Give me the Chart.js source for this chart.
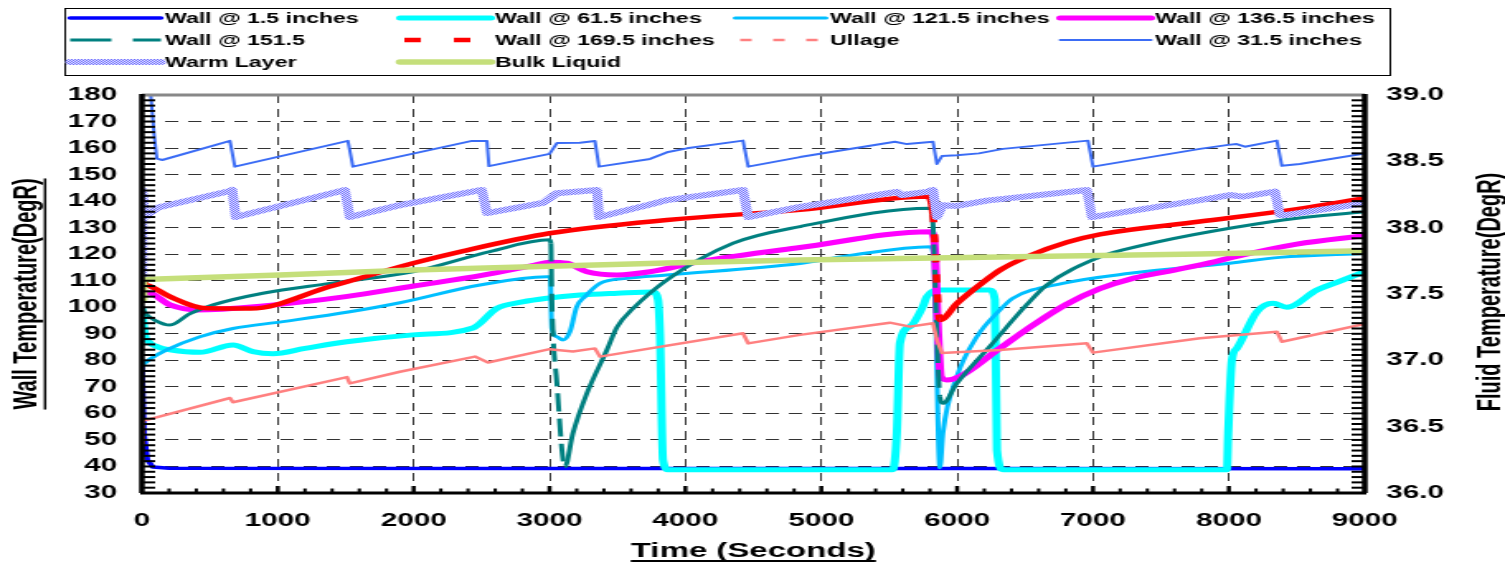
<!DOCTYPE html>
<html>
<head>
<meta charset="utf-8">
<script src="https://cdn.jsdelivr.net/npm/chart.js@4.4.0/dist/chart.umd.min.js"></script>
<style>
  html, body { margin: 0; padding: 0; background: #fff; }
</style>
</head>
<body>
<!-- the original plot is stretched sideways, so the canvas is drawn narrow and widened by its inline style -->
<canvas id="chart" width="912" height="564" style="display:block;width:1505px;height:564px;"></canvas>
<script>
// wall / fluid temperature history
// each point: [time (s), temperature (DegR)]

const wall1_5 = [[0,78],[15,52],[40,42.5],[80,39.8],[200,39.3],[3000,39.2],[6000,39.2],[9000,39.1]];

const wall61_5 = [[0,100],[20,90],[50,87],[120,85],[206,84],[427,83],[670,85.8],[817,83.3],[964,82.5],
  [1200,84.5],[1507,87],[1994,89.6],[2436,92.2],[2612,99.6],[2800,102],[2980,103.4],[3224,104.6],
  [3500,105.3],[3762,105.8],[3798,103],[3813,90],[3835,42.4],[3872,38.8],[5527,38.8],[5556,52.6],
  [5579,86.5],[5652,92.7],[5748,100.3],[5777,104],[5873,106.5],[6241,106.5],[6278,102.8],[6293,46.2],
  [6337,38.8],[7986,38.8],[7995,52.6],[8022,80],[8058,84.5],[8206,98.3],[8324,101.5],[8427,100],
  [8648,106.5],[8800,109.5],[9000,113.4]];

const wall121_5 = [[0,78],[60,80.5],[184,84],[427,88.9],[670,92],[1038,94.6],[1530,98.3],[1899,101.7],
  [2488,108.4],[2980,111.5],[3005,111.5],[3017,92],[3054,88.9],[3098,87.7],[3150,90.8],[3200,100.2],
  [3260,104],[3371,109],[3570,110.9],[3864,112.2],[4843,116.5],[5211,119.5],[5800,122.8],[5830,118],
  [5840,100],[5873,39.5],[5895,52.6],[5998,73.9],[6145,88.9],[6315,99],[6410,103.4],[6778,109],
  [7272,112.8],[8008,116.6],[8375,118.8],[9000,120.3]];

const wall136_5 = [[0,102.7],[22,105.4],[44,105.5],[206,100.9],[405,99],[890,100.5],[1500,104],[2000,108],
  [2500,112],[2900,116],[3000,117],[3128,116.6],[3275,113.4],[3496,112.2],[3739,113.4],[4107,117.2],
  [4843,122.5],[5800,128.5],[5830,126],[5860,90],[5880,73.9],[5925,72.6],[6020,73.9],[6300,84],
  [6550,93],[6800,101],[7050,107],[7300,111],[7600,114],[7900,117.2],[8000,118.5],[8500,123.8],[9000,127]];

const wall151_5 = [[0,100],[30,97.5],[100,95],[206,93.3],[350,97.5],[523,100.9],[890,105.3],[1384,109],
  [1994,113.4],[2561,121],[3000,125.4],[3010,124],[3017,102.7],[3054,71.5],[3113,39.9],[3172,52.5],
  [3275,67.6],[3422,83.9],[3496,92.5],[3614,99.5],[3864,110.3],[4350,124.1],[4843,130.4],[5800,137.3],
  [5820,133],[5850,90.3],[5873,66.3],[5895,63.8],[5998,71.3],[6240,85.2],[6513,101],[6660,108.4],
  [7029,118.5],[7220,121.6],[8398,132.9],[9000,136]];

const wall169_5 = [[0,111],[30,108.5],[59,108],[206,104],[478,99.6],[800,99.5],[1384,107.8],[1994,116.6],
  [2363,121.2],[3000,127.9],[3864,132.9],[4843,136.7],[5785,141.7],[5822,135],[5873,95.2],[6000,101.5],
  [6168,108.5],[6315,114],[6536,119.5],[6808,124.5],[7051,127.5],[7787,132.3],[8500,137],[9000,141.1]];

const wall31_5 = [[60,183],[90,165],[110,156],[150,155.5],[648,162.7],[684,153],[1516,162.7],[1553,153],
  [2429,162.7],[2539,162.7],[2554,153.2],[3000,157.8],[3054,161.9],[3224,162],[3334,162.7],[3364,153],
  [3740,155.9],[3864,158.4],[4011,159.9],[4424,162.8],[4462,153],[4843,156.6],[5542,162.4],[5630,161.5],
  [5822,162.4],[5851,154],[5888,157],[5998,157.3],[6160,158],[6337,159.7],[6963,162.8],[7000,153],
  [7787,159.7],[7995,161.2],[8058,161.5],[8118,160.5],[8353,162.8],[8390,153.3],[8522,154],[9000,158]];

// fluid temperatures, right axis
const ullage = [[0,36.36],[8,36.56],[30,36.55],[648,36.716],[670,36.684],[1509,36.874],[1530,36.826],
  [1899,36.914],[2451,37.028],[2547,36.984],[3000,37.084],[3172,37.066],[3334,37.09],[3371,37.028],
  [4424,37.204],[4462,37.128],[4843,37.192],[5505,37.284],[5652,37.254],[5822,37.28],[5851,37.154],
  [5888,37.056],[6315,37.078],[6955,37.128],[7000,37.058],[7787,37.166],[8353,37.216],[8390,37.14],[9000,37.274]];

const warmLayer = [[0,37.6],[3,38.28],[20,38.08],[110,38.15],[648,38.276],[665,38.284],[690,38.08],
  [1494,38.284],[1530,38.08],[1899,38.17],[2502,38.284],[2539,38.11],[2951,38.186],[3054,38.26],
  [3349,38.284],[3364,38.08],[3762,38.18],[3864,38.208],[4424,38.284],[4462,38.08],[4843,38.156],
  [5556,38.27],[5594,38.246],[5777,38.27],[5822,38.284],[5851,38.08],[5895,38.17],[5998,38.164],
  [6219,38.204],[6955,38.284],[6992,38.08],[7787,38.208],[8008,38.246],[8103,38.234],[8339,38.272],
  [8375,38.096],[8427,38.096],[9000,38.184]];

const bulkLiquid = [[0,37.46],[8,37.61],[1015,37.644],[1994,37.68],[3000,37.71],[3864,37.734],
  [4843,37.756],[7787,37.802],[9000,37.826]];

const xTicksMax = 9000;
const FONT = "'Liberation Sans', Arial, sans-serif";

const toXY = arr => arr.map(p => ({ x: p[0], y: p[1] }));

// lavender stipple like the excel pattern line
function stipple(a, b) {
  const c = document.createElement("canvas");
  c.width = 2; c.height = 2;
  const g = c.getContext("2d");
  g.fillStyle = b; g.fillRect(0, 0, 2, 2);
  g.fillStyle = a; g.fillRect(0, 0, 1, 1); g.fillRect(1, 1, 1, 1);
  return document.getElementById("chart").getContext("2d").createPattern(c, "repeat");
}

// dashes only show up on the near-vertical drops
const steepDash = dash => ctx => {
  const dx = Math.abs(ctx.p1.x - ctx.p0.x), dy = Math.abs(ctx.p1.y - ctx.p0.y);
  return dy > 20 && dy > 10 * dx ? dash : undefined;
};

const datasets = [
  { label: "Wall @ 1.5 inches", data: toXY(wall1_5), borderColor: "#0000ff", borderWidth: 3.5, yAxisID: "y" },
  { label: "Wall @ 61.5 inches", data: toXY(wall61_5), borderColor: "#00ffff", borderWidth: 5, yAxisID: "y", smooth: true },
  { label: "Wall @ 121.5 inches", data: toXY(wall121_5), borderColor: "#00bfff", borderWidth: 3, yAxisID: "y", smooth: true },
  { label: "Wall @ 136.5 inches", data: toXY(wall136_5), borderColor: "#ff00ff", borderWidth: 5, yAxisID: "y", smooth: true },
  { label: "Wall @ 151.5", data: toXY(wall151_5), borderColor: "#008080", borderWidth: 3, yAxisID: "y", smooth: true,
    legendDash: [25, 13], segment: { borderDash: steepDash([18, 7]) } },
  { label: "Wall @ 169.5 inches", data: toXY(wall169_5), borderColor: "#ff0000", borderWidth: 4.5, yAxisID: "y", smooth: true,
    legendDash: [10, 20], legendDashOffset: -2.5, segment: { borderDash: steepDash([8, 12]) } },
  { label: "Ullage", data: toXY(ullage), borderColor: "#ff8080", borderWidth: 2.5, yAxisID: "y1",
    legendDash: [7, 13], legendDashOffset: -3 },
  { label: "Wall @ 31.5 inches", data: toXY(wall31_5), borderColor: "#3b6cf5", borderWidth: 2, yAxisID: "y" },
  { label: "Warm Layer", data: toXY(warmLayer), borderColor: stipple("#6f6fff", "#e4e4ff"), borderWidth: 6, yAxisID: "y1" },
  { label: "Bulk Liquid", data: toXY(bulkLiquid), borderColor: "#c5df7b", borderWidth: 5.5, yAxisID: "y1" },
];
datasets.forEach((d, i) => {
  d.order = datasets.length - i; // later series on top, like excel
  d.pointRadius = 0;
  d.fill = false;
  d.borderJoinStyle = "round";
  if (d.smooth) d.cubicInterpolationMode = "monotone";
  else d.tension = 0;
});

// legend in 4 fixed columns
const legendCols = [42.5, 242.5, 445.5, 642.5];
const legendRows = [18, 40, 62];

const gridLegend = {
  id: "gridLegend",
  afterDraw(chart) {
    const ctx = chart.ctx;
    ctx.save();
    ctx.fillStyle = "#fff";
    ctx.fillRect(39.5, 8.5, 803, 67);
    ctx.strokeStyle = "#000";
    ctx.lineWidth = 1;
    ctx.strokeRect(39.5, 8.5, 803, 67);
    chart.data.datasets.forEach((ds, i) => {
      const x = legendCols[i % 4], y = legendRows[Math.floor(i / 4)];
      ctx.beginPath();
      ctx.setLineDash(ds.legendDash || []);
      ctx.lineDashOffset = ds.legendDashOffset || 0;
      ctx.lineCap = ds.legendDash ? "butt" : "round";
      ctx.strokeStyle = ds.borderColor;
      ctx.lineWidth = ds.borderWidth;
      ctx.moveTo(x, y);
      ctx.lineTo(x + 55, y);
      ctx.stroke();
      ctx.setLineDash([]);
      ctx.fillStyle = "#000";
      ctx.font = "bold 14px " + FONT;
      ctx.textBaseline = "middle";
      ctx.textAlign = "left";
      ctx.fillText(ds.label, x + 57.5, y + 1);
    });
    ctx.restore();
  }
};

// axis lines, inward minor ticks, titles with underline
const axisFrame = {
  id: "axisFrame",
  afterDatasetsDraw(chart) {
    const { ctx, chartArea: a, scales } = chart;
    ctx.save();
    ctx.lineCap = "butt";
    ctx.strokeStyle = "#000";
    ctx.lineWidth = 2;
    for (let v = 30; v <= 180; v += 2) {
      const y = scales.y.getPixelForValue(v);
      ctx.beginPath(); ctx.moveTo(a.left, y); ctx.lineTo(a.left + 8, y); ctx.stroke();
    }
    for (let k = 0; k <= 75; k++) {
      const y = scales.y1.getPixelForValue(36 + k * 0.04);
      ctx.beginPath(); ctx.moveTo(a.right - 8, y); ctx.lineTo(a.right, y); ctx.stroke();
    }
    for (let t = 200; t < xTicksMax; t += 200) {
      const x = scales.x.getPixelForValue(t);
      const major = t % 1000 === 0;
      ctx.lineWidth = major ? 2.5 : 2;
      ctx.beginPath(); ctx.moveTo(x, a.bottom); ctx.lineTo(x, a.bottom - (major ? 7 : 4.5)); ctx.stroke();
    }

    ctx.strokeStyle = "#888";
    ctx.lineWidth = 3;
    ctx.beginPath(); ctx.moveTo(a.left, a.top); ctx.lineTo(a.right, a.top); ctx.stroke();
    ctx.strokeStyle = "#000";
    ctx.lineWidth = 3.5;
    ctx.beginPath(); ctx.moveTo(a.left, a.top - 1); ctx.lineTo(a.left, a.bottom); ctx.stroke();
    ctx.beginPath(); ctx.moveTo(a.right, a.top - 1); ctx.lineTo(a.right, a.bottom); ctx.stroke();
    ctx.lineWidth = 3;
    ctx.beginPath(); ctx.moveTo(a.left - 1, a.bottom); ctx.lineTo(a.right + 1, a.bottom); ctx.stroke();
    ctx.restore();
  },
  afterDraw(chart) {
    const { ctx, chartArea: a, scales } = chart;
    const midY = (a.top + a.bottom) / 2;
    ctx.save();
    ctx.font = "bold 20px " + FONT;
    ctx.fillStyle = "#000";
    ctx.strokeStyle = "#000";

    // x title underline
    const xt = scales.x.options.title.text;
    const wx = ctx.measureText(xt).width;
    const cx = (a.left + a.right) / 2;
    ctx.lineWidth = 2;
    ctx.beginPath(); ctx.moveTo(cx - wx / 2, 561); ctx.lineTo(cx + wx / 2, 561); ctx.stroke();

    // left title underline
    const wl = ctx.measureText(scales.y.options.title.text).width;
    ctx.lineWidth = 1.5;
    ctx.beginPath(); ctx.moveTo(27.3, midY - wl / 2); ctx.lineTo(27.3, midY + wl / 2); ctx.stroke();

    // right title, read bottom to top like the left one
    ctx.translate(903, midY - 2);
    ctx.rotate(-Math.PI / 2);
    ctx.textAlign = "center";
    ctx.textBaseline = "middle";
    ctx.fillText("Fluid Temperature(DegR)", 0, 0);
    ctx.restore();
  }
};

const tickFont = { family: FONT, size: 18, weight: "bold" };

new Chart(document.getElementById("chart"), {
  type: "line",
  data: { datasets },
  options: {
    responsive: false,
    animation: false,
    devicePixelRatio: 1,
    layout: { padding: { top: 95, left: 0, right: 0, bottom: 0 } },
    plugins: { legend: { display: false }, tooltip: { enabled: false } },
    scales: {
      x: {
        type: "linear",
        min: 0,
        max: xTicksMax,
        afterFit: s => { s.height = 71; },
        ticks: { stepSize: 1000, color: "#000", font: tickFont, padding: 17, maxRotation: 0, autoSkip: false,
                 callback: v => String(v) },
        grid: { color: "#333", lineWidth: 1, drawTicks: false },
        border: { display: false, dash: [8, 6] },
        title: { display: true, text: "Time (Seconds)", color: "#000",
                 font: { family: FONT, size: 20, weight: "bold", lineHeight: 1.2 }, padding: { top: 0, bottom: 1 } }
      },
      y: {
        position: "left",
        min: 30,
        max: 180,
        afterFit: s => { s.width = 86; },
        ticks: { stepSize: 10, color: "#000", font: tickFont, padding: 15 },
        grid: { color: "#333", lineWidth: 1, drawTicks: false },
        border: { display: false, dash: [8, 6] },
        title: { display: true, text: "Wall Temperature(DegR)", color: "#000",
                 font: { family: FONT, size: 20, weight: "bold", lineHeight: 1 }, padding: { top: 6, bottom: 0 } }
      },
      y1: {
        position: "right",
        min: 36,
        max: 39,
        afterFit: s => { s.width = 85; },
        ticks: { stepSize: 0.5, color: "#000", font: tickFont, padding: 13, callback: v => v.toFixed(1) },
        grid: { drawOnChartArea: false, drawTicks: false },
        border: { display: false }
      }
    }
  },
  plugins: [axisFrame, gridLegend]
});
</script>
</body>
</html>
